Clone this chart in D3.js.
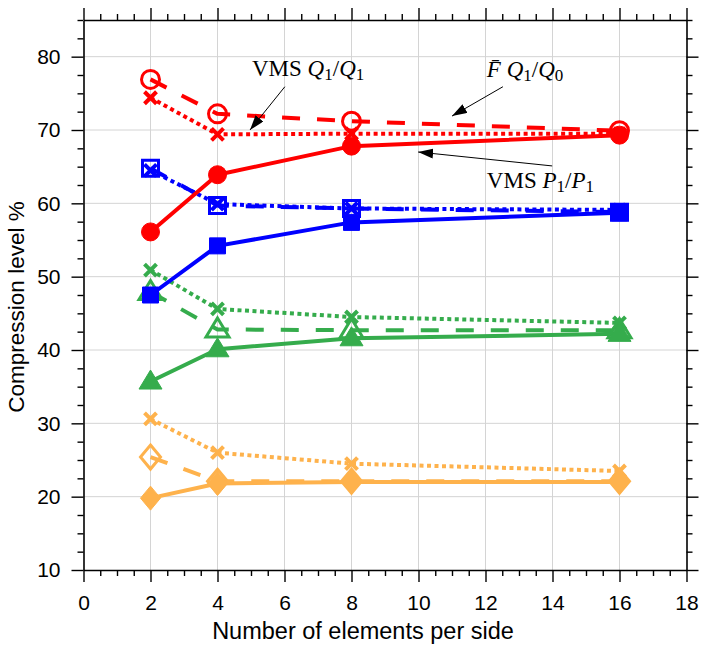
<!DOCTYPE html>
<html>
<head>
<meta charset="utf-8">
<script src="https://cdn.jsdelivr.net/npm/d3@7"></script>
<style>
  html, body { margin: 0; padding: 0; background: #fff; }
  svg { display: block; }
</style>
</head>
<body>
<svg id="chart" width="708" height="652"></svg>
<script>
// ---------- data ----------
const xValues = [2, 4, 8, 16];

const redSolid    = [56.1, 63.9, 67.8, 69.3];
const redDashed   = [76.9, 72.2, 71.2, 69.9];
const redDotted   = [74.4, 69.4, 69.5, 69.5];

const blueSolid   = [47.5, 54.2, 57.4, 58.7];
const blueDashed  = [64.8, 59.7, 59.3, 58.8];
const blueDotted  = [64.5, 59.9, 59.3, 59.1];

const greenSolid  = [35.7, 40.1, 41.6, 42.2];
const greenDashed = [47.9, 42.8, 42.7, 42.7];
const greenDotted = [50.9, 45.6, 44.5, 43.7];

const orangeSolid  = [19.8, 21.8, 22.0, 22.0];
const orangeDashed = [25.4, 22.1, 22.1, 22.1];
const orangeDotted = [30.6, 26.0, 24.5, 23.5];

const xMajorTicks = [0, 2, 4, 6, 8, 10, 12, 14, 16, 18];
const yMajorTicks = [10, 20, 30, 40, 50, 60, 70, 80];

const xLabel = "Number of elements per side";
const yLabel = "Compression level %";

// annotations in data units: text anchor + arrow tail/tip
const annotations = [
  { parts: [["VMS ", false], ["Q", true], ["1", "sub"], ["/", false], ["Q", true], ["1", "sub"]],
    tx: 5.03, ty: 77.3, x1: 6.01, y1: 75.9, x2: 4.97, y2: 70.0 },
  { parts: [["F\u0304", true], [" ", false], ["Q", true], ["1", "sub"], ["/", false], ["Q", true], ["0", "sub"]],
    tx: 12.04, ty: 77.2, x1: 12.52, y1: 75.9, x2: 11.0, y2: 71.9 },
  { parts: [["VMS ", false], ["P", true], ["1", "sub"], ["/", false], ["P", true], ["1", "sub"]],
    tx: 12.04, ty: 62.1, x1: 13.99, y1: 65.1, x2: 9.99, y2: 67.0 }
];

// ---------- styles ----------
const RED = "#ff0000", BLUE = "#0000ff", GREEN = "#35ac4c", ORANGE = "#feb24c";

const series = [
  { color: ORANGE, values: orangeDotted, dash: "4,3.5", marker: "x" },
  { color: ORANGE, values: orangeDashed, dash: "18,17", marker: "diamond", open: true },
  { color: ORANGE, values: orangeSolid,  dash: null,    marker: "diamond" },
  { color: GREEN,  values: greenDotted,  dash: "4,3.5", marker: "x" },
  { color: GREEN,  values: greenDashed,  dash: "18,17", marker: "triangle", open: true },
  { color: GREEN,  values: greenSolid,   dash: null,    marker: "triangle" },
  { color: BLUE,   values: blueSolid,    dash: null,    marker: "square" },
  { color: BLUE,   values: blueDotted,   dash: "4,3.5", marker: "x" },
  { color: BLUE,   values: blueDashed,   dash: "18,17", marker: "square", open: true },
  { color: RED,    values: redDotted,    dash: "4,3.5", marker: "x" },
  { color: RED,    values: redDashed,    dash: "18,17", marker: "circle", open: true },
  { color: RED,    values: redSolid,     dash: null,    marker: "circle" }
];

// ---------- layout ----------
const svg = d3.select("#chart");
const x = d3.scaleLinear().domain([0, 18]).range([83.5, 686.5]);
const y = d3.scaleLinear().domain([10, 85]).range([570, 20]);

// grid
const grid = svg.append("g").attr("stroke", "#d4d4d4").attr("stroke-width", 1);
grid.selectAll("line.gx").data(xMajorTicks.slice(1, -1)).join("line")
  .attr("x1", d => x(d)).attr("x2", d => x(d))
  .attr("y1", y(10)).attr("y2", y(85));
grid.selectAll("line.gy").data(yMajorTicks.slice(1)).join("line")
  .attr("x1", x(0)).attr("x2", x(18))
  .attr("y1", d => y(d)).attr("y2", d => y(d));

// axes
const xMinor = d3.range(0, 18.01, 0.5).filter(v => Math.abs(v % 2) > 1e-9);
const yMinor = d3.range(10, 85.01, 2.5).filter(v => Math.abs(v % 10) > 1e-9);

function styleAxis(g) {
  g.select(".domain").attr("stroke", "#000").attr("stroke-width", 1.6);
  g.selectAll(".tick line").attr("stroke", "#000").attr("stroke-width", 1.4);
}

const fontTick = "'Liberation Sans', Arial, sans-serif";

const gB = svg.append("g").attr("transform", `translate(0,${y(10)})`)
  .call(d3.axisBottom(x).tickValues(xMajorTicks).tickSize(12).tickPadding(13).tickSizeOuter(0));
gB.append("g").call(d3.axisBottom(x).tickValues(xMinor).tickSize(6).tickFormat("")).select(".domain").remove();
const gT = svg.append("g").attr("transform", `translate(0,${y(85)})`)
  .call(d3.axisTop(x).tickValues(xMajorTicks).tickSize(12).tickFormat("").tickSizeOuter(0));
gT.append("g").call(d3.axisTop(x).tickValues(xMinor).tickSize(6).tickFormat("")).select(".domain").remove();
const gL = svg.append("g").attr("transform", `translate(${x(0)},0)`)
  .call(d3.axisLeft(y).tickValues(yMajorTicks).tickSize(12).tickPadding(11).tickSizeOuter(0));
gL.append("g").call(d3.axisLeft(y).tickValues(yMinor).tickSize(6).tickFormat("")).select(".domain").remove();
const gR = svg.append("g").attr("transform", `translate(${x(18)},0)`)
  .call(d3.axisRight(y).tickValues(yMajorTicks).tickSize(12).tickFormat("").tickSizeOuter(0));
gR.append("g").call(d3.axisRight(y).tickValues(yMinor).tickSize(6).tickFormat("")).select(".domain").remove();
[gB, gT, gL, gR].forEach(g => { styleAxis(g); g.selectAll("g").each(function(){ styleAxis(d3.select(this)); }); });
svg.selectAll(".tick text").attr("font-family", fontTick).attr("font-size", 21).attr("fill", "#000");

// axis titles
svg.append("text").attr("x", 363).attr("y", 639)
  .attr("text-anchor", "middle").attr("font-family", fontTick).attr("font-size", 23.5)
  .text(xLabel);
svg.append("text").attr("transform", `translate(24,307) rotate(-90)`)
  .attr("text-anchor", "middle").attr("font-family", fontTick).attr("font-size", 22.5)
  .text(yLabel);

// ---------- lines & markers ----------
const line = d3.line().x((d, i) => x(xValues[i])).y(d => y(d));

function markerPath(type) {
  switch (type) {
    case "circle": return d3.symbol(d3.symbolCircle, Math.PI * 9 * 9)();
    case "square": return "M-8,-8L8,-8L8,8L-8,8Z";
    case "triangle": return "M0,-11.5L11.5,7.5L-11.5,7.5Z";
    case "diamond": return "M0,-12L10,0L0,12L-10,0Z";
    case "x": return "M-6,-6L6,6M-6,6L6,-6";
  }
}

const plot = svg.append("g");
series.forEach(s => {
  plot.append("path").datum(s.values)
    .attr("d", line)
    .attr("fill", "none")
    .attr("stroke", s.color)
    .attr("stroke-width", 4)
    .attr("stroke-dasharray", s.dash)
    .attr("stroke-linejoin", "round");
  plot.selectAll(null).data(s.values).join("path")
    .attr("transform", (d, i) => `translate(${x(xValues[i])},${y(d)})`)
    .attr("d", markerPath(s.marker))
    .attr("fill", (s.open || s.marker === "x") ? "none" : s.color)
    .attr("stroke", s.color)
    .attr("stroke-width", s.marker === "x" ? 4 : (s.open ? 3 : 1))
    .attr("stroke-linejoin", "miter");
});

// ---------- annotations ----------
const defs = svg.append("defs");
defs.append("marker").attr("id", "ah")
  .attr("viewBox", "0 0 15 10").attr("refX", 15).attr("refY", 5)
  .attr("markerWidth", 15).attr("markerHeight", 10)
  .attr("markerUnits", "userSpaceOnUse").attr("orient", "auto")
  .append("path").attr("d", "M0,0L15,5L0,10Z").attr("fill", "#000");

const ann = svg.append("g");
annotations.forEach(a => {
  ann.append("line")
    .attr("x1", x(a.x1)).attr("y1", y(a.y1))
    .attr("x2", x(a.x2)).attr("y2", y(a.y2))
    .attr("stroke", "#000").attr("stroke-width", 1)
    .attr("marker-end", "url(#ah)");
  const t = ann.append("text").attr("x", x(a.tx)).attr("y", y(a.ty))
    .attr("font-family", "'Liberation Serif', 'Times New Roman', serif")
    .attr("font-size", 23).attr("fill", "#000");
  let prevSub = false;
  a.parts.forEach(([str, style]) => {
    const sp = t.append("tspan").text(str);
    if (style === true) sp.attr("font-style", "italic");
    if (style === "sub") { sp.attr("font-size", 17).attr("dy", 4); prevSub = true; }
    else { if (prevSub) sp.attr("dy", -4); prevSub = false; }
  });
});
</script>
</body>
</html>
